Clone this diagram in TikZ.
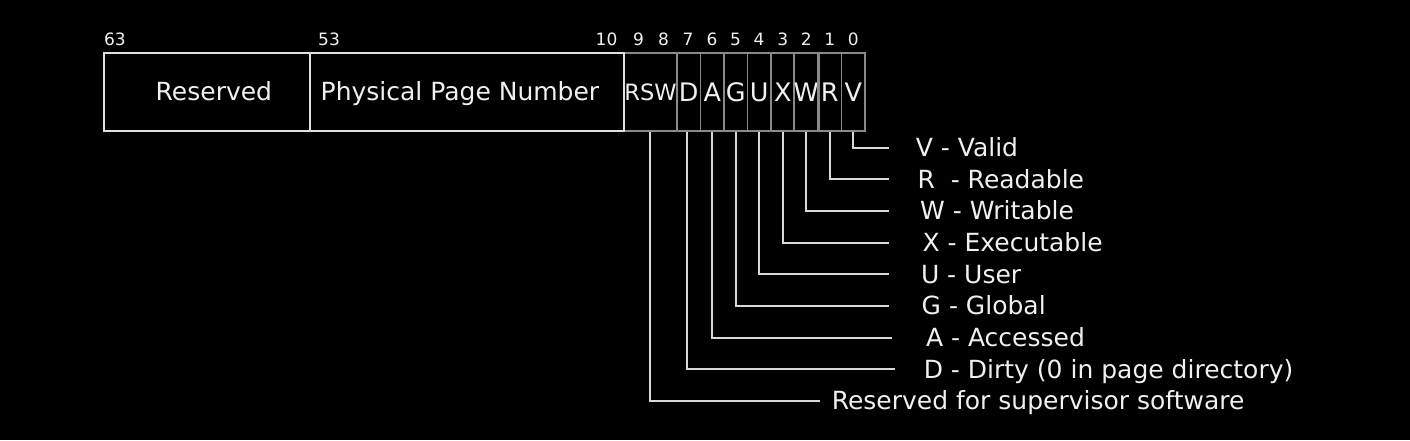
\documentclass[tikz,border=0pt]{standalone}
\usepackage{fontspec}
\setmainfont{DejaVu Sans}
\definecolor{boxline}{HTML}{E0E0E0}
\definecolor{cellline}{HTML}{8A8A8A}
\definecolor{connline}{HTML}{D8D8D8}
\definecolor{txt}{HTML}{F0F0F0}
\tikzset{
  mainbox/.style={draw=boxline, line width=2pt, minimum height=78pt, inner sep=0pt},
  cellbox/.style={draw=cellline, line width=1.8pt, minimum height=78pt, inner sep=0pt, text=txt},
  letter/.style={cellbox, minimum width=23.5pt, font=\fontsize{25.5}{30}\selectfont},
  bitnum/.style={text=txt, anchor=base, inner sep=0pt, font=\fontsize{17}{20}\selectfont},
  fieldlbl/.style={text=txt, anchor=base west, inner sep=0pt, font=\fontsize{25}{30}\selectfont},
  desc/.style={text=txt, anchor=base west, inner sep=0pt, font=\fontsize{25}{30}\selectfont},
  conn/.style={draw=connline, line width=2pt}
}
\begin{document}
\begin{tikzpicture}[x=1pt,y=-1pt]
\fill[black] (0,0) rectangle (1410,440);
\useasboundingbox (0,0) rectangle (1410,440);

% bit cells
\node[cellbox, minimum width=53pt, font=\fontsize{22.5}{27}\selectfont] (cRSW) at (650.5,92) {RSW};
\node[letter] (cD) at (688.75,92) {D};
\node[letter] (cA) at (712.25,92) {A};
\node[letter] (cG) at (735.75,92) {G};
\node[letter] (cU) at (759.25,92) {U};
\node[letter] (cX) at (782.75,92) {X};
\node[letter] (cW) at (806.25,92) {W};
\node[letter] (cR) at (829.75,92) {R};
\node[letter] (cV) at (853.25,92) {V};

% main fields
\node[mainbox, minimum width=206pt] (res) at (207,92) {};
\node[mainbox, minimum width=314pt] (ppn) at (467,92) {};
\node[fieldlbl] (reslbl) at (155.5,100.3) {Reserved};
\node[fieldlbl] (ppnlbl) at (320.5,100.3) {Physical Page Number};

% bit numbers
\node[bitnum] (n63) at (115,45.5) {63};
\node[bitnum] (n53) at (329,45.5) {53};
\node[bitnum] (n10) at (606.5,45.5) {10};
\node[bitnum] (n9) at (638.5,45.5) {9};
\node[bitnum] (n8) at (663.5,45.5) {8};
\node[bitnum] (n7) at (688.0,45.5) {7};
\node[bitnum] (n6) at (712.0,45.5) {6};
\node[bitnum] (n5) at (735.5,45.5) {5};
\node[bitnum] (n4) at (759.0,45.5) {4};
\node[bitnum] (n3) at (782.75,45.5) {3};
\node[bitnum] (n2) at (806.25,45.5) {2};
\node[bitnum] (n1) at (829.75,45.5) {1};
\node[bitnum] (n0) at (853.25,45.5) {0};

% connector ends
\coordinate (eV) at (889,147.5);
\coordinate (eR) at (889,179.2);
\coordinate (eW) at (889,210.9);
\coordinate (eX) at (889,242.6);
\coordinate (eU) at (889,274.3);
\coordinate (eG) at (889,306.0);
\coordinate (eA) at (891.5,337.7);
\coordinate (eD) at (895,369.4);
\coordinate (eRSW) at (819.5,401.1);

\draw[conn] (cV.south) |- (eV);
\draw[conn] (cR.south) |- (eR);
\draw[conn] (cW.south) |- (eW);
\draw[conn] (cX.south) |- (eX);
\draw[conn] (cU.south) |- (eU);
\draw[conn] (cG.south) |- (eG);
\draw[conn] (cA.south) |- (eA);
\draw[conn] ([xshift=-1.5pt]cD.south) |- (eD);
\draw[conn] ([xshift=-1pt]cRSW.south) |- (eRSW);

% descriptions
\node[desc] (dV) at (915.6,156.3) {V - Valid};
\node[desc] (dR) at (917.3,188.0) {R\ \ - Readable};
\node[desc] (dW) at (920,219.7) {W - Writable};
\node[desc] (dX) at (922.3,251.4) {X - Executable};
\node[desc] (dU) at (920.8,283.1) {U - User};
\node[desc] (dG) at (921.5,314.8) {G - Global};
\node[desc] (dA) at (925.8,346.5) {A - Accessed};
\node[desc] (dD) at (923.6,378.2) {D - Dirty (0 in page directory)};
\node[desc] (dRSW) at (831.6,409.9) {Reserved for supervisor software};
\end{tikzpicture}
\end{document}
